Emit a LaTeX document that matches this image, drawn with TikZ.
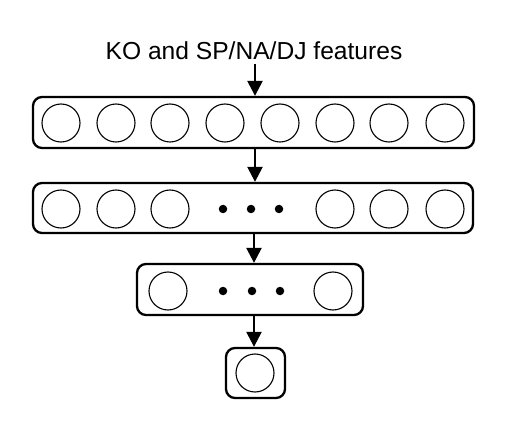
\documentclass[tikz,border=0pt]{standalone}
\usepackage{fontspec}
\setmainfont{Liberation Sans}
\usetikzlibrary{arrows.meta}
\begin{document}
\begin{tikzpicture}[x=1pt,y=-1pt,
  layerbox/.style={draw, line width=2.3pt, rounded corners=9pt, inner sep=0pt},
  unit/.style={draw, circle, line width=1.1pt, minimum size=38pt, inner sep=0pt},
  dotmark/.style={fill, circle, minimum size=8.5pt, inner sep=0pt},
  flow/.style={line width=2.4pt, -{Triangle[length=15pt,width=15pt]}}]
\useasboundingbox (0,0) rectangle (512,433);
\node[font=\fontsize{24.6}{28}\selectfont, inner sep=0pt, anchor=base] (title) at (254,60) {KO and SP/NA/DJ features};
\coordinate (ts) at (255,64);
% layer 1
\node[layerbox, minimum width=441pt, minimum height=51pt] (b1) at (253.5,122.5) {};
\foreach \x [count=\i] in {61,116,170,225,280,335,389,445}
  \node[unit] (c1\i) at (\x,123) {};
% layer 2
\node[layerbox, minimum width=440pt, minimum height=50pt] (b2) at (253,208) {};
\foreach \x [count=\i] in {61,116,170,335,389,445}
  \node[unit] (c2\i) at (\x,209) {};
\foreach \x [count=\i] in {223,251,279}
  \node[dotmark] (d2\i) at (\x,209) {};
% layer 3
\node[layerbox, minimum width=226pt, minimum height=51pt] (b3) at (250,289.5) {};
\foreach \x [count=\i] in {168,333}
  \node[unit] (c3\i) at (\x,291) {};
\foreach \x [count=\i] in {223,252,280}
  \node[dotmark] (d3\i) at (\x,291) {};
% layer 4
\node[layerbox, minimum width=59pt, minimum height=50pt] (b4) at (255.5,373) {};
\node[unit] (c41) at (255,373) {};
% arrows
\draw[flow] (ts) -- (ts |- b1.north);
\draw[flow] (ts |- b1.south) -- (ts |- b2.north);
\draw[flow] ([xshift=-1pt]ts |- b2.south) -- ([xshift=-1pt]ts |- b3.north);
\draw[flow] ([xshift=-1pt]ts |- b3.south) -- ([xshift=-1pt]ts |- b4.north);
\end{tikzpicture}
\end{document}
